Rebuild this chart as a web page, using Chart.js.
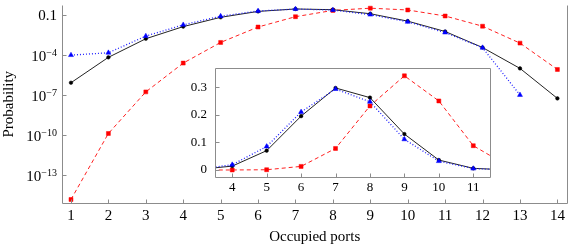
<!DOCTYPE html>
<html>
<head>
<meta charset="utf-8">
<script src="https://cdn.jsdelivr.net/npm/chart.js@4.4.0/dist/chart.umd.min.js"></script>
<style>
  html, body { margin: 0; padding: 0; background: #fff; }
  #wrap { position: relative; width: 572px; height: 246px; }
  #main { position: absolute; left: 0; top: 0; }
  #inset { position: absolute; left: 185px; top: 52px; }
</style>
</head>
<body>
<div id="wrap">
  <canvas id="main" width="572" height="246"></canvas>
  <canvas id="inset" width="310" height="148"></canvas>
</div>
<script>
// data
const ports = [1, 2, 3, 4, 5, 6, 7, 8, 9, 10, 11, 12, 13, 14];
const probBlack = [8.3e-7, 6.8e-5, 1.7e-3, 0.014, 0.07, 0.195, 0.297, 0.262, 0.13, 0.036, 0.006, 3.7e-4, 1e-5, 5.5e-8];
const probBlue = [1e-4, 1.5e-4, 2.7e-3, 0.019, 0.085, 0.21, 0.293, 0.247, 0.111, 0.032, 0.005, 3.6e-4, 1e-7, null];
const probRed = [1.35e-15, 1.26e-10, 1.7e-7, 2.5e-5, 9e-4, 0.013, 0.078, 0.232, 0.341, 0.25, 0.088, 0.015, 8e-4, 8.3e-6];

const yTickVals = [1e-13, 1e-10, 1e-7, 1e-4, 0.1];
const yTickLabels = ['10^\u221213', '10^\u221210', '10^\u22127', '10^\u22124', '0.1'];

const insetPorts = [4, 5, 6, 7, 8, 9, 10, 11];
const insetYVals = [0, 0.1, 0.2, 0.3];
const insetYLabels = ['0', '0.1', '0.2', '0.3'];

const FONT = "'Liberation Serif', 'Times New Roman', serif";
const AXIS_GRAY = '#8c8c8c';

const pts = (arr, keep) => ports
  .map((x, i) => ({ x, y: arr[i] }))
  .filter(p => p.y !== null && (!keep || keep(p.x)));

// frame + inward ticks (+ optional power-of-ten labels)
const framePlugin = {
  id: 'frame',
  beforeDraw(chart, args, opts) {
    if (!opts.fill) return;
    const { ctx, chartArea: a } = chart;
    ctx.save();
    ctx.fillStyle = opts.fill;
    ctx.fillRect(a.left, a.top, a.right - a.left, a.bottom - a.top);
    ctx.restore();
  },
  afterDraw(chart, args, opts) {
    const { ctx, chartArea: a, scales: { x, y } } = chart;
    const L = Math.round(a.left) + 0.5, R = Math.round(a.right) - 0.5;
    const T = Math.round(a.top) + 0.5, B = Math.round(a.bottom) - 0.5;
    ctx.save();
    ctx.strokeStyle = AXIS_GRAY;
    ctx.lineWidth = 1;
    ctx.beginPath();
    ctx.moveTo(L, T); ctx.lineTo(L, B); ctx.lineTo(R, B); ctx.lineTo(R, T);
    if (opts.top) { ctx.lineTo(L, T); }
    x.ticks.forEach(t => {
      const px = Math.round(x.getPixelForValue(t.value)) + 0.5;
      ctx.moveTo(px, B); ctx.lineTo(px, B - opts.len);
    });
    y.ticks.forEach(t => {
      const py = Math.round(y.getPixelForValue(t.value)) + 0.5;
      ctx.moveTo(L, py); ctx.lineTo(L + opts.len, py);
    });
    ctx.stroke();

    if (opts.powLabels) {
      ctx.fillStyle = '#000';
      ctx.textBaseline = 'alphabetic';
      const right = a.left - 5;
      y.ticks.forEach((t, i) => {
        const py = y.getPixelForValue(t.value);
        const [base, exp] = opts.powLabels[i].split('^');
        let expW = 0;
        if (exp) {
          ctx.font = '10px ' + FONT;
          expW = ctx.measureText(exp).width;
          ctx.textAlign = 'left';
          ctx.fillText(exp, right - expW, py + 1);
        }
        ctx.font = '15px ' + FONT;
        ctx.textAlign = 'right';
        ctx.fillText(base, right - expW, py + (exp ? 6 : 5));
      });
    }
    ctx.restore();
  }
};

function seriesSets(keep) {
  return [
    {
      data: pts(probBlue, keep), borderColor: '#2020ff', borderWidth: 1.3, borderDash: [1, 2],
      pointStyle: 'triangle', pointRadius: 2.9, pointBackgroundColor: '#0000ff',
      pointBorderColor: '#0000ff', pointBorderWidth: 0.5
    },
    {
      data: pts(probBlack, keep), borderColor: '#222', borderWidth: 1,
      pointStyle: 'circle', pointRadius: 1.8, pointBackgroundColor: '#000',
      pointBorderColor: '#000', pointBorderWidth: 0.5
    },
    {
      data: pts(probRed, keep), borderColor: '#ff2020', borderWidth: 1, borderDash: [4, 3],
      pointStyle: 'rect', pointRadius: 2.8, pointBackgroundColor: '#ff0000',
      pointBorderColor: '#ff0000', pointBorderWidth: 0.5
    }
  ];
}

new Chart(document.getElementById('main'), {
  type: 'line',
  data: { datasets: seriesSets(null) },
  options: {
    responsive: false,
    animation: false,
    events: [],
    layout: { padding: { top: 0, right: 1, left: 0, bottom: 0 } },
    plugins: {
      legend: { display: false },
      tooltip: { enabled: false },
      frame: { len: 4, top: false, powLabels: yTickLabels }
    },
    scales: {
      x: {
        type: 'linear', min: 0.76, max: 14.27,
        afterBuildTicks: s => { s.ticks = ports.map(v => ({ value: v })); },
        afterFit: s => { s.height = 42; },
        grid: { display: false, drawTicks: false },
        border: { display: false },
        ticks: { color: '#000', font: { family: FONT, size: 15 }, padding: 3, maxRotation: 0, autoSkip: false },
        title: { display: true, text: 'Occupied ports', color: '#000', font: { family: FONT, size: 15 }, padding: { top: 0, bottom: 0 } }
      },
      y: {
        type: 'logarithmic', min: Math.pow(10, -15.21), max: Math.pow(10, -0.19),
        afterBuildTicks: s => { s.ticks = yTickVals.map(v => ({ value: v })); },
        afterFit: s => { s.width = 62; },
        grid: { display: false, drawTicks: false },
        border: { display: false },
        ticks: { display: false },
        title: { display: true, text: 'Probability', color: '#000', font: { family: FONT, size: 15 }, padding: { top: 0, bottom: 0 } }
      }
    }
  },
  plugins: [framePlugin]
});

new Chart(document.getElementById('inset'), {
  type: 'line',
  data: { datasets: seriesSets(x => x >= 3 && x <= 12) },
  options: {
    responsive: false,
    animation: false,
    events: [],
    layout: { padding: { top: 0, right: 2, left: 0, bottom: 0 } },
    plugins: {
      legend: { display: false },
      tooltip: { enabled: false },
      frame: { len: 4, top: true, fill: '#fff' }
    },
    scales: {
      x: {
        type: 'linear', min: 3.5, max: 11.5,
        afterBuildTicks: s => { s.ticks = insetPorts.map(v => ({ value: v })); },
        afterFit: s => { s.height = 22; },
        grid: { display: false, drawTicks: false },
        border: { display: false },
        ticks: { color: '#000', font: { family: FONT, size: 13 }, padding: 2, maxRotation: 0, autoSkip: false }
      },
      y: {
        type: 'linear', min: -0.029, max: 0.37,
        afterBuildTicks: s => { s.ticks = insetYVals.map(v => ({ value: v })); },
        afterFit: s => { s.width = 30; },
        grid: { display: false, drawTicks: false },
        border: { display: false },
        ticks: { color: '#000', font: { family: FONT, size: 13 }, padding: 8, callback: (v, i) => insetYLabels[i] }
      }
    }
  },
  plugins: [framePlugin]
});
</script>
</body>
</html>
